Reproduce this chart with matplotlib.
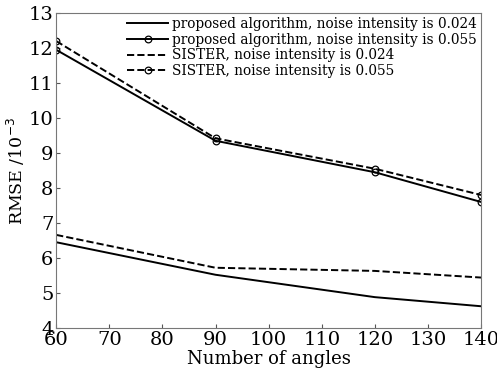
import matplotlib
matplotlib.use("Agg")
import matplotlib.pyplot as plt

angles = [60, 90, 120, 140]
prop_024 = [6.45, 5.52, 4.88, 4.62]
prop_055 = [11.95, 9.35, 8.45, 7.6]
sister_024 = [6.66, 5.72, 5.63, 5.44]
sister_055 = [12.2, 9.42, 8.55, 7.8]

plt.rcParams['font.family'] = ['DejaVu Serif']

fig = plt.figure(figsize=(4.97, 3.84), dpi=100)
ax = fig.add_axes([0.113, 0.146, 0.855, 0.82])

ax.plot(angles, prop_024, 'k-', lw=1.4, label='proposed algorithm, noise intensity is 0.024')
ax.plot(angles, prop_055, 'k-', lw=1.4, marker='o', mfc='none', ms=4.8, mew=0.9,
        label='proposed algorithm, noise intensity is 0.055')
ax.plot(angles, sister_024, 'k--', lw=1.4, label='SISTER, noise intensity is 0.024')
ax.plot(angles, sister_055, 'k--', lw=1.4, marker='o', mfc='none', ms=4.8, mew=0.9,
        label='SISTER, noise intensity is 0.055')

ax.set_xlim(60, 140)
ax.set_ylim(4, 13)
ax.set_xticks(range(60, 141, 10))
ax.set_yticks(range(4, 14))
ax.tick_params(direction='in', length=3, labelsize=14, width=0.8, color='#555555', pad=2)
for s in ax.spines.values():
    s.set_color('#777777')
ax.set_xlabel('Number of angles', fontsize=13, labelpad=1)
ax.set_ylabel('RMSE /10$^{-3}$', fontsize=12.5, labelpad=1)

ax.legend(loc='upper right', frameon=False, fontsize=9.8, handlelength=3.0,
          labelspacing=0.12, borderaxespad=0.0, handletextpad=0.3, borderpad=0.3)

fig.savefig('out.png', dpi=100)
